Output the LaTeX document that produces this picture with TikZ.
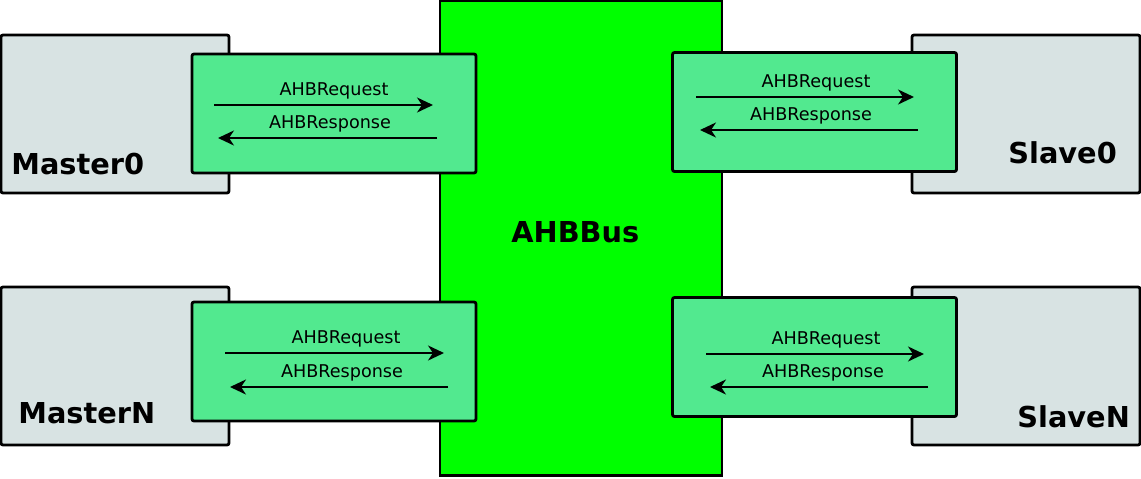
\documentclass[tikz,border=0pt]{standalone}
\usepackage{fontspec}
\setmainfont{DejaVu Sans}
\usetikzlibrary{arrows.meta}

\definecolor{unitgrey}{RGB}{216,227,227}
\definecolor{linkgreen}{RGB}{82,233,143}
\definecolor{busgreen}{RGB}{0,255,0}

\tikzset{
  unit/.style={draw, line width=1.4pt, rounded corners=1pt, fill=unitgrey,
    minimum width=114pt, minimum height=79pt, inner sep=0pt},
  link/.style={draw, line width=1.4pt, rounded corners=1pt, fill=linkgreen,
    minimum width=142pt, minimum height=59.5pt, inner sep=0pt},
  unitname/.style={font=\bfseries\fontsize{14.4}{16}\selectfont, anchor=base west, inner sep=0pt},
  msg/.style={font=\fontsize{8.8}{10}\selectfont, anchor=base, inner sep=0pt},
  wire/.style={line width=1.1pt, -{Stealth[length=8pt,width=7.5pt,inset=2.5pt]}}
}

\begin{document}
\begin{tikzpicture}[x=0.5pt,y=-0.5pt]
  \useasboundingbox (0,0) rectangle (1141,478);

  % masters and slaves
  \node[unit] (master0) at (115,114) {};
  \node[unit] (masterN) at (115,366) {};
  \node[unit] (slave0) at (1026,114) {};
  \node[unit] (slaveN) at (1026,366) {};
  \node[unitname] (master0txt) at (11,174) {Master0};
  \node[unitname] (masterNtxt) at (18,423) {MasterN};
  \node[unitname] (slave0txt) at (1008,163) {Slave0};
  \node[unitname] (slaveNtxt) at (1017,427) {SlaveN};

  % the bus
  \node[draw, line width=1.4pt, fill=busgreen, minimum width=141pt,
    minimum height=237.5pt, inner sep=0pt] (bus) at (581,238) {};
  \node[unitname] (bustxt) at (511,242) {AHBBus};

  % links
  \node[link] (m0) at (334,113.5) {};
  \node[link] (mN) at (334,361.5) {};
  \node[link] (s0) at (814.5,112) {};
  \node[link] (sN) at (814.5,357) {};

  \foreach \lk/\qy/\qa/\qb/\qt/\py/\pa/\pb/\pt in {
      m0/105/214/433/334/138/437/218/330,
      mN/353/225/444/346/387/448/230/342,
      s0/97/696/914/816/130/918/700/811,
      sN/354/706/924/826/387/928/710/823}
  {
    \coordinate (\lk qa) at (\qa,\qy);
    \coordinate (\lk qb) at (\qb,\qy);
    \coordinate (\lk pa) at (\pa,\py);
    \coordinate (\lk pb) at (\pb,\py);
    \draw[wire] (\lk qa) -- (\lk qb);
    \draw[wire] (\lk pa) -- (\lk pb);
    \node[msg] (\lk q) at (\qt,\qy-9.5) {AHBRequest};
    \node[msg] (\lk p) at (\pt,\py-9.5) {AHBResponse};
  }

\end{tikzpicture}
\end{document}
